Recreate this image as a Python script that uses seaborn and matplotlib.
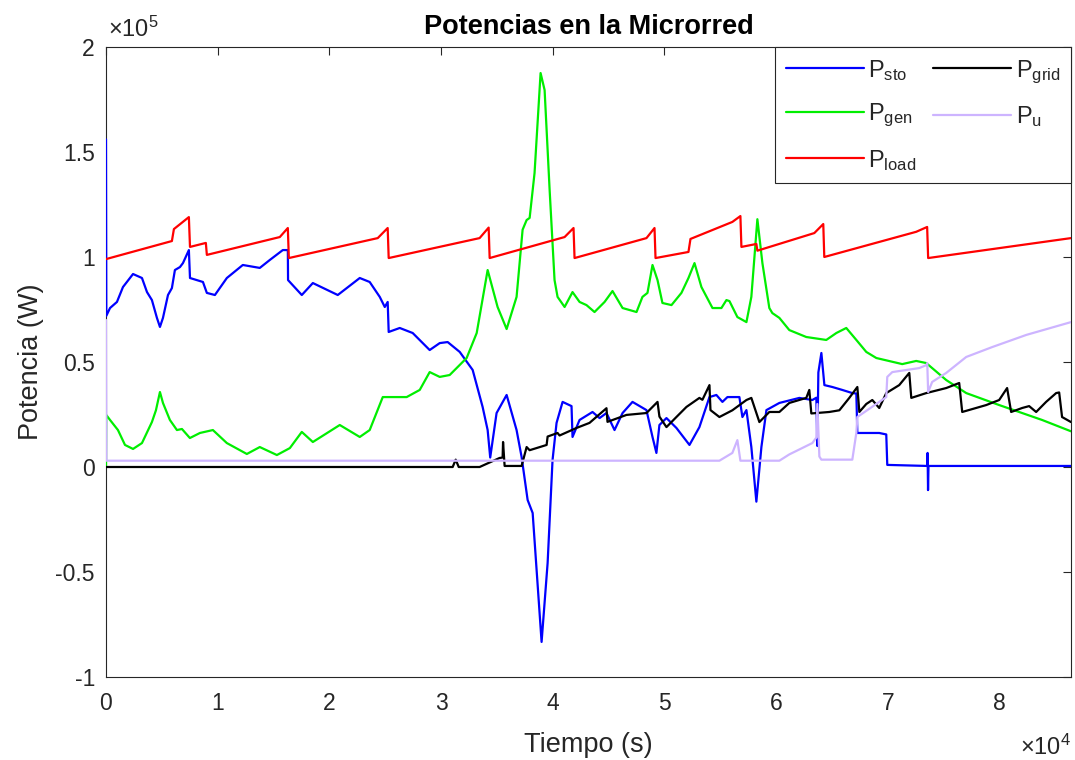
import pandas as pd
import seaborn as sns
import matplotlib.pyplot as plt
from matplotlib.ticker import FuncFormatter

# values: time in units of 1e4 s, power in units of 1e5 W
t_sto = [0, 0.003, 0.036, 0.098, 0.152, 0.242, 0.322, 0.367, 0.411, 0.456, 0.483, 0.510,
         0.555, 0.590, 0.617, 0.662, 0.689, 0.742, 0.752, 0.868, 0.903, 0.975, 1.082, 1.225,
         1.377, 1.467, 1.583, 1.628, 1.630, 1.753, 1.852, 2.075, 2.272, 2.361, 2.451, 2.496,
         2.522, 2.531, 2.630, 2.746, 2.898, 2.988, 3.059, 3.167, 3.283, 3.372, 3.417, 3.440,
         3.497, 3.587, 3.676, 3.721, 3.775, 3.820, 3.900, 3.954, 3.998, 4.034, 4.088, 4.168,
         4.177, 4.240, 4.356, 4.419, 4.481, 4.553, 4.625, 4.714, 4.839, 4.893, 4.928, 4.955,
         5.018, 5.107, 5.224, 5.313, 5.403, 5.465, 5.519, 5.564, 5.671, 5.698, 5.734, 5.778,
         5.823, 5.868, 5.913, 6.029, 6.208, 6.324, 6.360, 6.369, 6.378, 6.405, 6.432, 6.503,
         6.592, 6.682, 6.718, 6.727, 6.923, 6.986, 6.995, 7.353, 7.356, 7.360, 7.364, 8.64]
p_sto = [1.56, 0.72, 0.757, 0.786, 0.857, 0.919, 0.9, 0.833, 0.795, 0.71, 0.667, 0.71,
         0.819, 0.852, 0.938, 0.952, 0.971, 1.033, 0.9, 0.881, 0.829, 0.819, 0.9, 0.962,
         0.948, 0.986, 1.033, 1.033, 0.89, 0.819, 0.876, 0.819, 0.9, 0.881, 0.81, 0.762,
         0.786, 0.643, 0.662, 0.638, 0.557, 0.59, 0.595, 0.548, 0.462, 0.286, 0.176, 0.045,
         0.257, 0.343, 0.176, 0.048, -0.157, -0.219, -0.833, -0.457, 0.033, 0.21, 0.31, 0.29,
         0.143, 0.224, 0.262, 0.233, 0.257, 0.176, 0.257, 0.31, 0.271, 0.143, 0.067, 0.2,
         0.233, 0.186, 0.105, 0.19, 0.333, 0.343, 0.31, 0.333, 0.333, 0.238, 0.271, 0.095,
         -0.165, 0.095, 0.271, 0.305, 0.329, 0.319, 0.33, 0.1, 0.45, 0.543, 0.39, 0.381,
         0.367, 0.352, 0.35, 0.162, 0.162, 0.155, 0.01, 0.005, 0.067, -0.11, 0.005, 0.005]

t_gen = [0, 0.002, 0.036, 0.107, 0.170, 0.242, 0.322, 0.411, 0.447, 0.483, 0.510, 0.572,
         0.635, 0.680, 0.751, 0.841, 0.957, 1.082, 1.261, 1.377, 1.530, 1.646, 1.753, 1.852,
         2.093, 2.272, 2.361, 2.478, 2.692, 2.809, 2.898, 2.988, 3.077, 3.229, 3.319, 3.417,
         3.506, 3.587, 3.676, 3.730, 3.766, 3.793, 3.837, 3.891, 3.927, 3.972, 4.016, 4.043,
         4.106, 4.177, 4.240, 4.302, 4.374, 4.464, 4.535, 4.625, 4.750, 4.803, 4.848, 4.893,
         4.938, 4.982, 5.063, 5.152, 5.215, 5.269, 5.331, 5.430, 5.510, 5.555, 5.582, 5.653,
         5.734, 5.778, 5.832, 5.877, 5.939, 5.966, 6.029, 6.118, 6.270, 6.449, 6.539, 6.628,
         6.718, 6.807, 6.897, 7.129, 7.254, 7.344, 7.523, 7.702, 7.997, 8.381, 8.64]
p_gen = [0.0, 0.248, 0.224, 0.176, 0.105, 0.086, 0.114, 0.214, 0.27, 0.357, 0.305, 0.224,
         0.176, 0.181, 0.138, 0.162, 0.176, 0.114, 0.062, 0.095, 0.057, 0.09, 0.167, 0.119,
         0.2, 0.143, 0.176, 0.333, 0.333, 0.367, 0.452, 0.429, 0.438, 0.519, 0.638, 0.938,
         0.762, 0.657, 0.81, 1.13, 1.176, 1.186, 1.4, 1.876, 1.795, 1.319, 0.89, 0.81,
         0.762, 0.833, 0.786, 0.771, 0.738, 0.786, 0.838, 0.757, 0.738, 0.81, 0.829, 0.962,
         0.89, 0.781, 0.771, 0.829, 0.9, 0.971, 0.857, 0.757, 0.757, 0.795, 0.79, 0.714,
         0.69, 0.81, 1.18, 0.971, 0.757, 0.733, 0.71, 0.652, 0.619, 0.605, 0.638, 0.662,
         0.605, 0.548, 0.519, 0.49, 0.505, 0.495, 0.414, 0.352, 0.295, 0.224, 0.17]

t_load = [0, 0.590, 0.608, 0.742, 0.752, 0.894, 0.903, 1.556, 1.628, 1.637, 2.433, 2.522,
          2.531, 3.345, 3.426, 3.435, 4.106, 4.186, 4.195, 4.839, 4.911, 4.920, 5.215, 5.233,
          5.608, 5.680, 5.689, 5.823, 5.832, 6.342, 6.422, 6.431, 7.254, 7.352, 7.361, 8.64]
p_load = [0.99, 1.076, 1.133, 1.19, 1.048, 1.067, 1.01, 1.095, 1.138, 0.995, 1.09, 1.138,
          0.995, 1.09, 1.14, 0.995, 1.095, 1.138, 0.995, 1.09, 1.138, 0.995, 1.024, 1.086,
          1.167, 1.195, 1.048, 1.062, 1.03, 1.114, 1.157, 1.0, 1.12, 1.143, 0.995, 1.09]

t_grid = [0, 3.104, 3.131, 3.158, 3.345, 3.524, 3.551, 3.555, 3.569, 3.721, 3.766, 3.793,
          3.945, 3.954, 4.043, 4.061, 4.213, 4.329, 4.481, 4.490, 4.660, 4.839, 4.938, 4.955,
          5.018, 5.107, 5.197, 5.313, 5.340, 5.403, 5.412, 5.492, 5.608, 5.734, 5.778, 5.850,
          5.939, 6.029, 6.118, 6.270, 6.297, 6.315, 6.476, 6.566, 6.655, 6.727, 6.745, 6.807,
          6.861, 6.923, 6.986, 7.102, 7.192, 7.210, 7.344, 7.523, 7.639, 7.666, 7.881, 7.997,
          8.068, 8.104, 8.203, 8.265, 8.328, 8.417, 8.507, 8.534, 8.560, 8.64]
p_grid = [0.0, 0.0, 0.035, 0.0, 0.0, 0.043, 0.045, 0.119, 0.005, 0.005, 0.095, 0.08,
          0.105, 0.145, 0.162, 0.15, 0.186, 0.21, 0.28, 0.215, 0.248, 0.257, 0.31, 0.24,
          0.19, 0.238, 0.286, 0.329, 0.32, 0.39, 0.271, 0.238, 0.27, 0.319, 0.329, 0.214,
          0.262, 0.262, 0.305, 0.329, 0.367, 0.255, 0.262, 0.27, 0.329, 0.381, 0.262, 0.3,
          0.319, 0.281, 0.352, 0.39, 0.448, 0.329, 0.352, 0.376, 0.4, 0.262, 0.295, 0.319,
          0.376, 0.262, 0.281, 0.29, 0.262, 0.31, 0.352, 0.355, 0.238, 0.214]

t_u = [0, 0.004, 5.492, 5.608, 5.653, 5.680, 6.029, 6.118, 6.324, 6.360, 6.369, 6.387,
       6.405, 6.682, 6.718, 6.727, 6.986, 6.995, 7.040, 7.281, 7.344, 7.353, 7.361, 7.397,
       7.523, 7.702, 7.934, 8.240, 8.64]
p_u = [0.70, 0.03, 0.03, 0.067, 0.128, 0.03, 0.03, 0.06, 0.114, 0.14, 0.3, 0.05,
       0.035, 0.035, 0.162, 0.238, 0.333, 0.429, 0.452, 0.471, 0.485, 0.495, 0.357, 0.405,
       0.448, 0.524, 0.571, 0.629, 0.69]

names = [r"$\mathregular{P_{sto}}$", r"$\mathregular{P_{gen}}$", r"$\mathregular{P_{load}}$",
         r"$\mathregular{P_{grid}}$", r"$\mathregular{P_{u}}$"]
colors = ["#0000ff", "#00ee00", "#ff0000", "#000000", "#cdb4ff"]

frames = []
for name, t, p in zip(names, [t_sto, t_gen, t_load, t_grid, t_u],
                      [p_sto, p_gen, p_load, p_grid, p_u]):
    frames.append(pd.DataFrame({"t": [v * 1e4 for v in t], "P": [v * 1e5 for v in p],
                                "serie": name}))
df = pd.concat(frames, ignore_index=True)

sns.set_style("white")
plt.rcParams["font.family"] = ["Liberation Sans", "DejaVu Sans"]
plt.rcParams["mathtext.fontset"] = "custom"
plt.rcParams["mathtext.rm"] = "Liberation Sans"
plt.rcParams["mathtext.it"] = "Liberation Sans:italic"
plt.rcParams["mathtext.bf"] = "Liberation Sans:bold"
dark = "#262626"

fig = plt.figure(figsize=(10.75, 7.6), dpi=100)
ax = fig.add_axes([106 / 1075, 1 - 677 / 760, 965 / 1075, 630 / 760])

sns.lineplot(data=df, x="t", y="P", hue="serie", hue_order=names,
             palette=dict(zip(names, colors)), estimator=None, sort=False,
             linewidth=1.6, ax=ax, zorder=3)

ax.set_xlim(0, 86400)
ax.set_ylim(-1e5, 2e5)
ax.set_xticks([i * 1e4 for i in range(9)])
ax.set_yticks([-1e5, -0.5e5, 0, 0.5e5, 1e5, 1.5e5, 2e5])
ax.xaxis.set_major_formatter(FuncFormatter(lambda v, _: f"{v / 1e4:g}"))
ax.yaxis.set_major_formatter(FuncFormatter(lambda v, _: f"{v / 1e5:g}"))
ax.tick_params(direction="in", top=True, right=True, length=6, width=0.8,
               labelsize=16.5, colors=dark)
ax.tick_params(axis="x", pad=11)
ax.tick_params(axis="y", pad=8)
for s in ax.spines.values():
    s.set_color(dark)
    s.set_linewidth(0.8)

ax.text(0.002, 1.008, r"$\mathregular{\times10^{5}}$", transform=ax.transAxes,
        fontsize=17, color=dark, ha="left", va="bottom")
ax.text(1.0, -0.092, r"$\mathregular{\times10^{4}}$", transform=ax.transAxes,
        fontsize=17, color=dark, ha="right", va="top")

ax.set_title("Potencias en la Microrred", fontsize=19.5, fontweight="bold",
             color="black", pad=9)
ax.set_xlabel("Tiempo (s)", fontsize=19.5, color=dark, labelpad=12)
ax.set_ylabel("Potencia (W)", fontsize=19.5, color=dark, labelpad=8)

handles, labels = ax.get_legend_handles_labels()
leg = ax.legend(handles, labels, ncol=2, loc="upper right", borderaxespad=0,
                fontsize=17, handlelength=3.3, fancybox=False, framealpha=1,
                edgecolor=dark, columnspacing=0.7, labelspacing=0.8,
                handletextpad=0.2, borderpad=0.45)
leg.get_frame().set_linewidth(0.8)

plt.savefig("out.png", dpi=100)
